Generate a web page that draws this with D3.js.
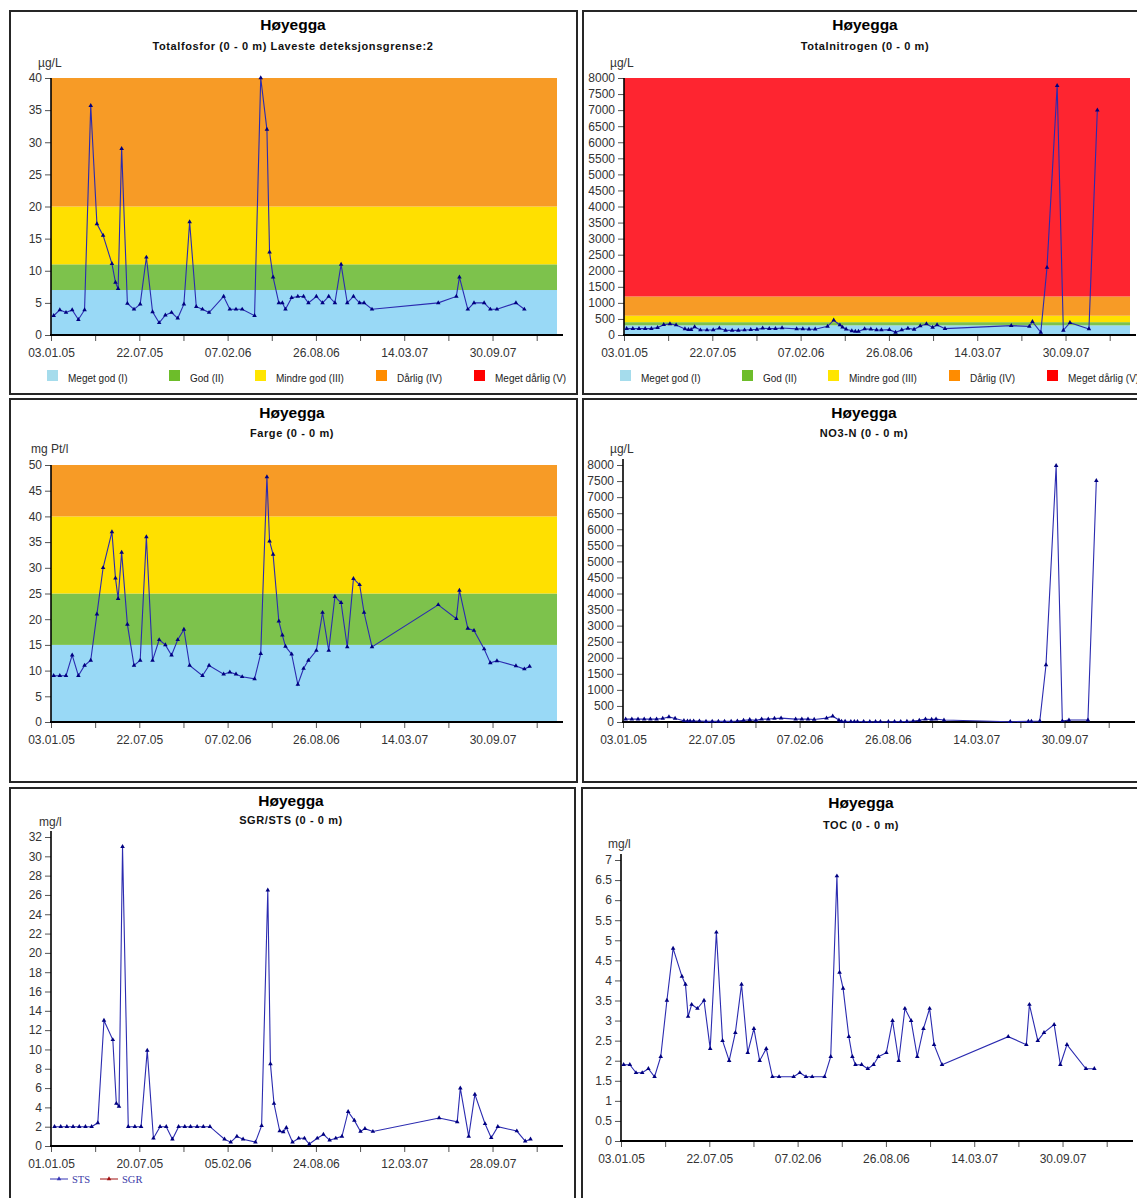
<!DOCTYPE html>
<html>
<head>
<meta charset="utf-8">
<script src="https://cdn.jsdelivr.net/npm/d3@7/dist/d3.min.js"></script>
<style>
    body { margin: 0; background: #ffffff; }
    svg { display: block; font-family: Arial, "Liberation Sans", sans-serif; }
</style>
</head>
<body>
<svg id="chart" width="1137" height="1198"></svg>
<script>
// sampling dates shared by all six series (null = not measured that day)
var sampleDates = [
    '2005-01-09', '2005-01-23', '2005-02-06', '2005-02-20', '2005-03-06', '2005-03-20', '2005-04-03', '2005-04-17',
    '2005-05-01', '2005-05-21', '2005-05-29', '2005-06-04', '2005-06-12', '2005-06-25', '2005-07-10', '2005-07-24',
    '2005-08-07', '2005-08-21', '2005-09-05', '2005-09-19', '2005-10-03', '2005-10-17', '2005-10-31', '2005-11-13',
    '2005-11-28', '2005-12-12', '2005-12-27', '2006-01-29', '2006-02-12', '2006-02-26', '2006-03-12', '2006-04-09',
    '2006-04-23', '2006-05-07', '2006-05-13', '2006-05-21', '2006-06-03', '2006-06-11', '2006-06-18', '2006-07-02',
    '2006-07-16', '2006-07-29', '2006-08-09', '2006-08-27', '2006-09-10', '2006-09-24', '2006-10-08', '2006-10-22',
    '2006-11-05', '2006-11-19', '2006-12-03', '2006-12-13', '2006-12-31', '2007-05-30', '2007-07-10', '2007-07-17',
    '2007-08-05', '2007-08-19', '2007-09-11', '2007-09-25', '2007-10-10', '2007-11-22', '2007-12-11', '2007-12-23'
];

var totalfosfor = [
    3.0, 3.9, 3.5, 3.9, 2.4, 3.9, 35.7, 17.3, 15.5, 11.1,
    8.2, 7.2, 29.0, 4.9, 4.0, 4.8, 12.1, 3.6, 1.9, 3.1,
    3.5, 2.6, 4.8, 17.6, 4.4, 4.0, 3.5, 6.0, 4.0, 4.0,
    4.0, 3.0, 40, 32, 12.9, 9.0, 5, 5, 4, 5.8,
    6, 6, 5, 6, 5, 6, 5, 11, 5, 6,
    5, 5, 4, 5, 6, 9, 4, 5, 5, 4,
    4, 5, 4, null
];

var totalnitrogen = [
    200, 200, 200, 200, 200, 230, 320, 345, 310, 190,
    165, 165, 250, 155, 155, 160, 210, 145, 145, 145,
    155, 165, 175, 210, 200, 200, 220, 190, 190, 180,
    180, 270, 460, 310, 240, 180, 130, 110, 110, 190,
    180, 156, 156, 166, 83, 156, 208, 177, 281, 343,
    239, 312, 198, 291, 270, 416, 83, 2100, 7760, 146,
    385, 187, 7000, null
];

var farge = [
    9, 9, 9, 13, 9, 11, 12, 21, 30, 37,
    28, 24, 33, 19, 11, 12, 36, 12, 16, 15,
    13, 16, 18, 11, null, 9, 11, 9.3, 9.7, 9.3,
    8.8, 8.4, 13.3, 47.7, 35.2, 32.6, 19.6, 16.9, 14.7, 13.2,
    7.3, 10.4, 12, 13.9, 21.3, 13.9, 24.4, 23.2, 14.6, 27.9,
    26.7, 21.3, 14.6, 22.8, 20.1, 25.6, 18.2, 17.8, 14.2, 11.5,
    11.9, 10.9, 10.3, 10.8
];

var no3n = [
    90, 90, 90, 90, 90, 90, 110, 160, 110, 40,
    30, 30, 30, 30, 20, 20, 20, 20, 20, 30,
    50, 70, 50, 90, 90, 110, 120, 90, 90, 90,
    80, 120, 180, 60, 20, 20, 15, 15, 15, 15,
    10, 10, 10, 10, 10, 15, 20, 30, 50, 90,
    80, 90, 60, 10, 20, 20, 30, 1775, 7980, 30,
    60, 60, 7510, null
];

var sts = [
    2, 2, 2, 2, 2, 2, 2, 2.4, 13.0, 11.0,
    4.4, 4.1, 31.0, 2, 2, 2, 9.9, 0.8, 2, 2,
    0.7, 2, 2, 2, 2, 2, 2, 0.7, 0.4, 1.0,
    0.7, 0.4, 2.1, 26.5, 8.5, 4.4, 1.55, 1.45, 1.9, 0.4,
    0.8, 0.8, 0.2, 0.8, 1.2, 0.6, 0.8, 1.0, 3.55, 2.65,
    1.5, 1.8, 1.5, 2.9, 2.5, 6.0, 1.0, 5.35, 2.3, 0.85,
    2.0, 1.55, 0.5, 0.7
];

var sgr = []; // no SGR values in the period, legend only

var toc = [
    1.9, 1.9, 1.7, 1.7, 1.8, 1.6, 2.1, 3.5, 4.8, 4.1,
    3.9, 3.1, 3.4, 3.3, 3.5, 2.3, 5.2, 2.5, 2.0, 2.7,
    3.9, 2.2, 2.8, 2.0, 2.3, 1.6, 1.6, 1.6, 1.7, 1.6,
    1.6, 1.6, 2.1, 6.6, 4.2, 3.8, 2.6, 2.1, 1.9, 1.9,
    1.8, 1.9, 2.1, 2.2, 3.0, 2.0, 3.3, 3.0, 2.1, 2.8,
    3.3, 2.4, 1.9, 2.6, 2.4, 3.4, 2.5, 2.7, 2.9, 1.9,
    2.4, 1.8, 1.8, null
];

// class limits (tilstandsklasser)
var fosforLimits = [0, 7, 11, 20, 40];
var nitrogenLimits = [0, 300, 400, 600, 1200, 8000];
var fargeLimits = [0, 15, 25, 40, 50];
var classNames = ['Meget god (I)', 'God (II)', 'Mindre god (III)', 'Dårlig (IV)', 'Meget dårlig (V)'];

var bandColors = ['#99d9f6', '#7dc24c', '#ffe000', '#f79b26', '#fe2530'];
var swatchColors = ['#a5dcec', '#6dbd2a', '#ffe500', '#ff8c00', '#ff0000'];

var parseDate = d3.timeParse('%Y-%m-%d');
var fmtDate = d3.timeFormat('%d.%m.%y');
var dates = sampleDates.map(parseDate);

var svg = d3.select('#chart');

var PLOT_DAYS = 1146;
var PLOT_W = 506;

function drawChart(c) {
    var g = svg.append('g');

    g.append('rect')
        .attr('x', c.frame[0])
        .attr('y', c.frame[1])
        .attr('width', c.frame[2])
        .attr('height', c.frame[3])
        .attr('fill', 'none')
        .attr('stroke', '#262626')
        .attr('stroke-width', 2);

    var start = parseDate(c.start);
    var x = d3.scaleTime()
        .domain([start, d3.timeDay.offset(start, PLOT_DAYS)])
        .range([c.x0, c.x0 + PLOT_W]);
    var y = d3.scaleLinear()
        .domain([0, c.yMax])
        .range([c.yBottom, c.yTop]);

    // class bands
    if (c.limits) {
        for (let i = 0; i < c.limits.length - 1; i++) {
            g.append('rect')
                .attr('x', c.x0)
                .attr('y', y(c.limits[i + 1]))
                .attr('width', PLOT_W)
                .attr('height', y(c.limits[i]) - y(c.limits[i + 1]))
                .attr('fill', bandColors[i]);
        }
    }

    // titles
    g.append('text')
        .attr('x', c.titleX)
        .attr('y', c.titleY)
        .attr('text-anchor', 'middle')
        .attr('font-size', '15.5px')
        .attr('font-weight', 'bold')
        .attr('fill', '#000')
        .text('Høyegga');
    g.append('text')
        .attr('x', c.titleX)
        .attr('y', c.subY)
        .attr('text-anchor', 'middle')
        .attr('font-size', '11px')
        .attr('font-weight', 'bold')
        .attr('letter-spacing', '0.6px')
        .attr('fill', '#111')
        .text(c.subtitle);
    g.append('text')
        .attr('x', c.unitX)
        .attr('y', c.unitY)
        .attr('font-size', '12px')
        .attr('fill', '#333')
        .text(c.unit);

    // y axis
    var yAxis = d3.axisLeft(y)
        .tickValues(d3.range(0, c.yMax + c.yStep / 2, c.yStep))
        .tickFormat(d3.format('~g'))
        .tickSize(6)
        .tickPadding(3);
    var ya = g.append('g')
        .attr('transform', 'translate(' + c.x0 + ',0)')
        .call(yAxis);
    ya.select('.domain').remove();
    ya.selectAll('line').attr('stroke', '#555');
    ya.selectAll('text')
        .attr('font-size', '12px')
        .attr('font-family', 'Arial, "Liberation Sans", sans-serif')
        .attr('fill', '#333');

    // x axis, a tick every 100 days, labels every 200
    var xTicks = d3.range(0, 12).map(function (i) {
        return d3.timeDay.offset(start, i * 100);
    });
    var xAxis = d3.axisBottom(x)
        .tickValues(xTicks)
        .tickFormat(function (d, i) {
            return i % 2 ? '' : fmtDate(d);
        })
        .tickSize(6)
        .tickPadding(7);
    var xa = g.append('g')
        .attr('transform', 'translate(0,' + c.yBottom + ')')
        .call(xAxis);
    xa.select('.domain').remove();
    xa.selectAll('line').attr('stroke', '#555');
    xa.selectAll('text')
        .attr('font-size', '12px')
        .attr('font-family', 'Arial, "Liberation Sans", sans-serif')
        .attr('fill', '#333');

    g.append('line')
        .attr('x1', c.x0)
        .attr('x2', c.x0)
        .attr('y1', c.limits ? c.yTop : c.yTop - 6)
        .attr('y2', c.yBottom + 1)
        .attr('stroke', '#000')
        .attr('stroke-width', 1.6);
    g.append('line')
        .attr('x1', c.x0 - 1)
        .attr('x2', c.x0 + 512)
        .attr('y1', c.yBottom)
        .attr('y2', c.yBottom)
        .attr('stroke', '#000')
        .attr('stroke-width', 2);

    // series
    var pts = [];
    for (let i = 0; i < dates.length; i++) {
        if (c.values[i] != null) pts.push({ date: dates[i], value: c.values[i] });
    }
    var line = d3.line()
        .x(function (d) { return x(d.date); })
        .y(function (d) { return y(d.value); });
    g.append('path')
        .datum(pts)
        .attr('d', line)
        .attr('fill', 'none')
        .attr('stroke', '#2b2bb0')
        .attr('stroke-width', 1.1);
    var tri = d3.symbol().type(d3.symbolTriangle).size(9);
    g.append('g')
        .selectAll('path')
        .data(pts)
        .join('path')
        .attr('d', tri)
        .attr('transform', function (d) {
            return 'translate(' + x(d.date) + ',' + y(d.value) + ')';
        })
        .attr('fill', '#000080');

    // class legend
    if (c.legend) {
        var offsets = [-4, 118, 204, 325, 423];
        classNames.forEach(function (name, i) {
            g.append('rect')
                .attr('x', c.x0 + offsets[i])
                .attr('y', c.yBottom + 35)
                .attr('width', 11)
                .attr('height', 11)
                .attr('fill', swatchColors[i]);
            g.append('text')
                .attr('x', c.x0 + offsets[i] + 21)
                .attr('y', c.yBottom + 47)
                .attr('font-size', '10px')
                .attr('fill', '#222')
                .text(name);
        });
    }

    // series legend (SGR/STS)
    if (c.seriesLegend) {
        c.seriesLegend.forEach(function (s, i) {
            var lx = c.x0 - 1 + i * 50;
            var ly = c.yBottom + 33;
            g.append('line')
                .attr('x1', lx)
                .attr('x2', lx + 18)
                .attr('y1', ly)
                .attr('y2', ly)
                .attr('stroke', s.color)
                .attr('stroke-width', 1);
            g.append('path')
                .attr('d', tri)
                .attr('transform', 'translate(' + (lx + 9) + ',' + ly + ')')
                .attr('fill', s.color);
            g.append('text')
                .attr('x', lx + 22)
                .attr('y', ly + 4)
                .attr('font-size', '10.5px')
                .attr('font-family', '"Liberation Serif", "Times New Roman", serif')
                .attr('fill', '#3a3aa8')
                .text(s.name);
        });
    }
}

drawChart({
    frame: [10, 11, 567, 383], start: '2005-01-03', x0: 51, yTop: 78, yBottom: 335,
    yMax: 40, yStep: 5, limits: fosforLimits, legend: true, values: totalfosfor,
    titleX: 293, titleY: 30, subY: 49.5,
    subtitle: 'Totalfosfor (0 - 0 m) Laveste deteksjonsgrense:2', unit: 'µg/L', unitX: 38, unitY: 67
});
drawChart({
    frame: [583, 11, 567, 383], start: '2005-01-03', x0: 624, yTop: 78, yBottom: 335,
    yMax: 8000, yStep: 500, limits: nitrogenLimits, legend: true, values: totalnitrogen,
    titleX: 865, titleY: 30, subY: 49.5,
    subtitle: 'Totalnitrogen (0 - 0 m)', unit: 'µg/L', unitX: 610, unitY: 67
});
drawChart({
    frame: [10, 399, 567, 383], start: '2005-01-03', x0: 51, yTop: 465, yBottom: 722,
    yMax: 50, yStep: 5, limits: fargeLimits, values: farge,
    titleX: 292, titleY: 418, subY: 437,
    subtitle: 'Farge (0 - 0 m)', unit: 'mg Pt/l', unitX: 31, unitY: 453
});
drawChart({
    frame: [583, 399, 567, 383], start: '2005-01-03', x0: 623, yTop: 465, yBottom: 722,
    yMax: 8000, yStep: 500, values: no3n,
    titleX: 864, titleY: 418, subY: 437,
    subtitle: 'NO3-N (0 - 0 m)', unit: 'µg/L', unitX: 610, unitY: 453
});
drawChart({
    frame: [10, 788, 565, 420], start: '2005-01-01', x0: 51, yTop: 837, yBottom: 1146,
    yMax: 32, yStep: 2, values: sts,
    seriesLegend: [{ name: 'STS', color: '#3535b5' }, { name: 'SGR', color: '#a01010', values: sgr }],
    titleX: 291, titleY: 806, subY: 824,
    subtitle: 'SGR/STS (0 - 0 m)', unit: 'mg/l', unitX: 39, unitY: 826
});
drawChart({
    frame: [582, 788, 567, 420], start: '2005-01-03', x0: 621, yTop: 860, yBottom: 1141,
    yMax: 7, yStep: 0.5, values: toc,
    titleX: 861, titleY: 808, subY: 829,
    subtitle: 'TOC (0 - 0 m)', unit: 'mg/l', unitX: 608, unitY: 848
});
</script>
</body>
</html>
